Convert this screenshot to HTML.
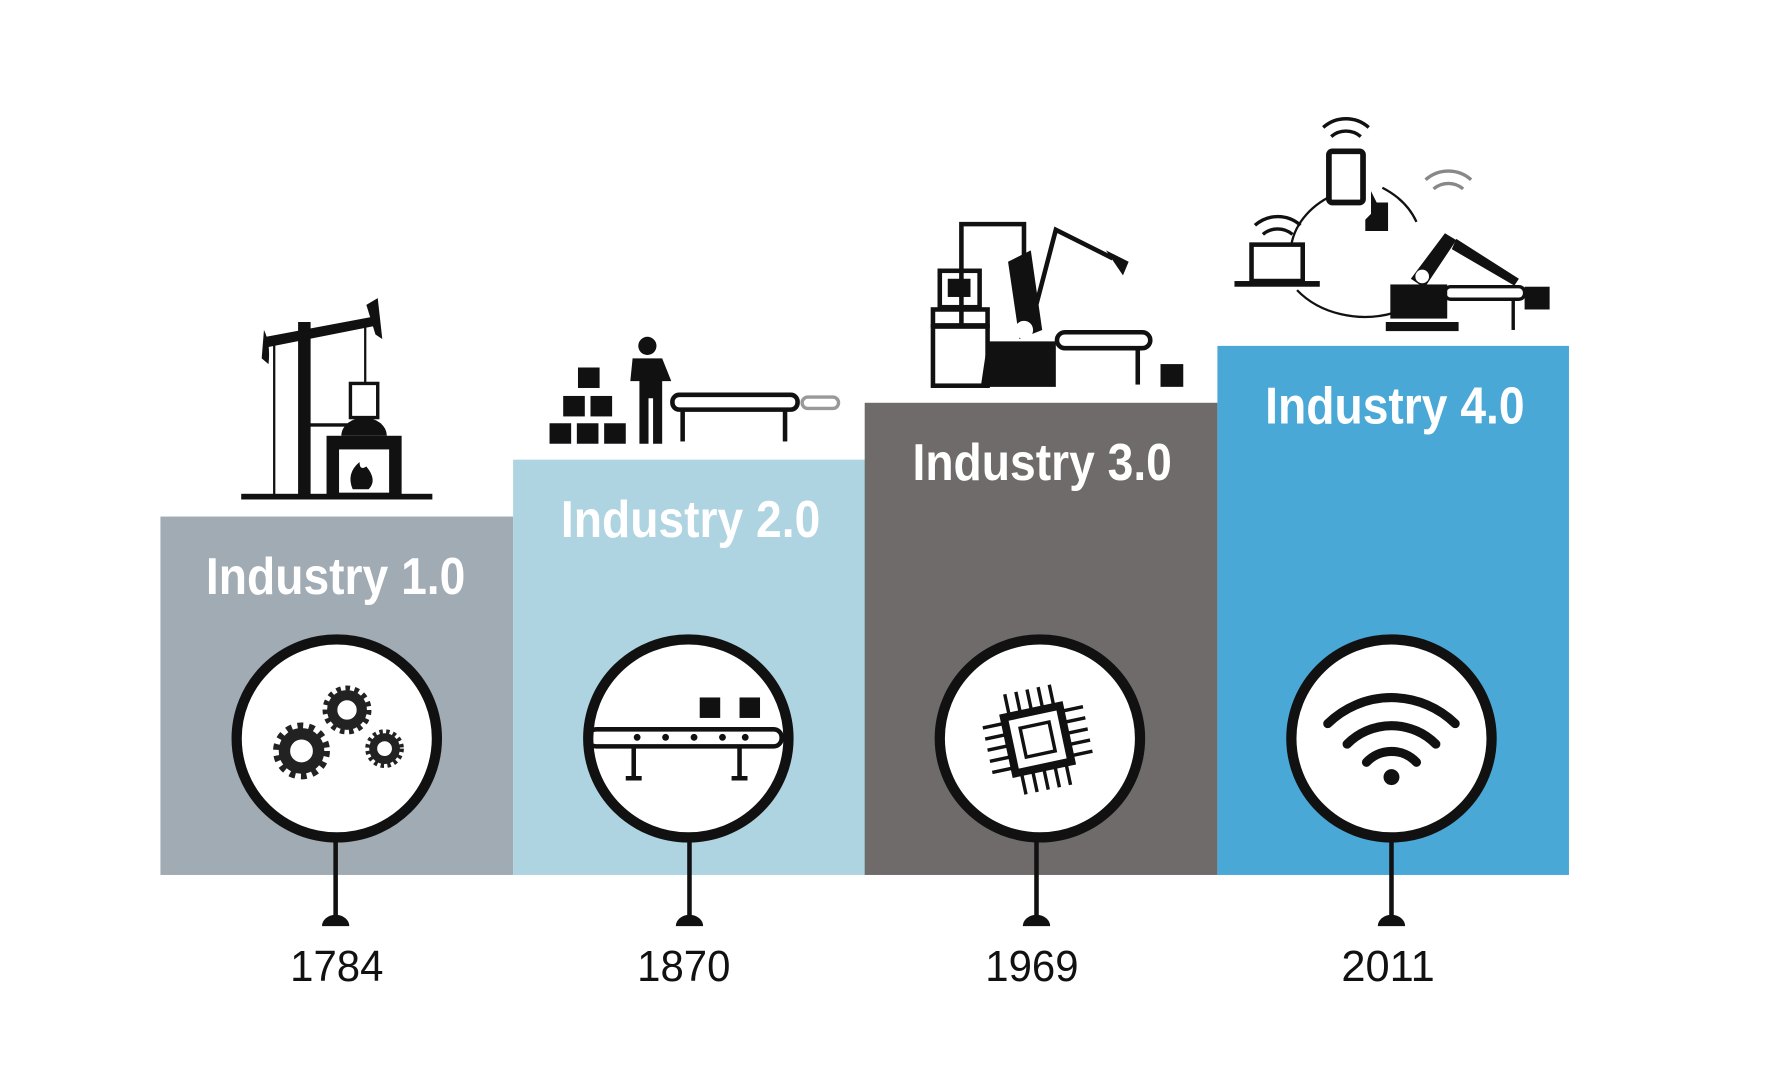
<!DOCTYPE html>
<html><head><meta charset="utf-8"><style>
html,body{margin:0;padding:0;background:#fff;}
svg{display:block}
.t{font-family:"Liberation Sans Narrow","Liberation Sans",sans-serif;font-weight:bold;fill:#fff;font-size:46px}
.y{font-family:"Liberation Sans",sans-serif;fill:#111;font-size:38px}
</style></head><body>
<svg width="1784" height="1090" viewBox="0 0 1568 958" preserveAspectRatio="none" xmlns="http://www.w3.org/2000/svg">
<rect width="1568" height="958" fill="#fff"/>
<!-- boxes -->
<rect x="141" y="454" width="310" height="315" fill="#a0abb3"/>
<rect x="451" y="404" width="310" height="365" fill="#aed3e1"/>
<rect x="760" y="354" width="310" height="415" fill="#6f6b6b"/>
<rect x="1070" y="304" width="309" height="465" fill="#4aa8d6"/>
<!-- titles -->
<text class="t" x="181" y="522" textLength="228" lengthAdjust="spacingAndGlyphs">Industry 1.0</text>
<text class="t" x="493" y="472" textLength="228" lengthAdjust="spacingAndGlyphs">Industry 2.0</text>
<text class="t" x="802" y="422" textLength="228" lengthAdjust="spacingAndGlyphs">Industry 3.0</text>
<text class="t" x="1112" y="372" textLength="228" lengthAdjust="spacingAndGlyphs">Industry 4.0</text>
<!-- pins -->
<g stroke="#111" stroke-width="4">
<line x1="295" y1="740" x2="295" y2="810"/><line x1="606" y1="740" x2="606" y2="810"/>
<line x1="911" y1="740" x2="911" y2="810"/><line x1="1223" y1="740" x2="1223" y2="810"/>
</g>
<g fill="#111">
<path d="M283 814a12 10 0 0 1 24 0z"/><path d="M594 814a12 10 0 0 1 24 0z"/>
<path d="M899 814a12 10 0 0 1 24 0z"/><path d="M1211 814a12 10 0 0 1 24 0z"/>
</g>
<g fill="#fff" stroke="#111" stroke-width="9">
<ellipse cx="296" cy="649" rx="88" ry="87"/>
<ellipse cx="605" cy="649" rx="88" ry="87"/>
<ellipse cx="914" cy="649" rx="88" ry="87"/>
<ellipse cx="1223" cy="649" rx="88" ry="87"/>
</g>
<!-- gears -->
<g fill="none" stroke="#222">
<circle cx="265" cy="660" r="15" stroke-width="10"/><circle cx="265" cy="660" r="22" stroke-width="6" stroke-dasharray="5 5"/>
<circle cx="305" cy="624" r="13" stroke-width="9"/><circle cx="305" cy="624" r="19" stroke-width="5" stroke-dasharray="4 4"/>
<circle cx="338" cy="658" r="10" stroke-width="7"/><circle cx="338" cy="658" r="15" stroke-width="4" stroke-dasharray="3 3"/>
</g>
<!-- conveyor -->
<g fill="#111"><rect x="615" y="613" width="18" height="18"/><rect x="650" y="613" width="18" height="18"/></g>
<g fill="none" stroke="#111" stroke-width="4">
<rect x="517" y="641" width="170" height="15" rx="7"/>
<line x1="557" y1="656" x2="557" y2="684"/><line x1="650" y1="656" x2="650" y2="684"/>
<line x1="550" y1="684" x2="564" y2="684"/><line x1="643" y1="684" x2="657" y2="684"/>
</g>
<g fill="#111"><circle cx="560" cy="648" r="3"/><circle cx="585" cy="648" r="3"/><circle cx="610" cy="648" r="3"/><circle cx="635" cy="648" r="3"/><circle cx="655" cy="648" r="3"/></g>
<!-- chip -->
<g transform="rotate(-12 912 650)" fill="none" stroke="#111">
<rect x="887" y="625" width="50" height="50" stroke-width="7"/>
<rect x="899" y="637" width="26" height="26" stroke-width="3"/>
<path d="M892 605v18M902 605v18M912 605v18M922 605v18M932 605v18M892 677v18M902 677v18M912 677v18M922 677v18M932 677v18M867 630h18M867 640h18M867 650h18M867 660h18M867 670h18M939 630h18M939 640h18M939 650h18M939 660h18M939 670h18" stroke-width="3"/>
</g>
<!-- wifi -->
<g fill="none" stroke="#111" stroke-width="8" stroke-linecap="round">
<path d="M1167 636a80 80 0 0 1 112 0"/><path d="M1184 654a55 55 0 0 1 78 0"/><path d="M1201 670a30 30 0 0 1 44 0"/>
</g>
<circle cx="1223" cy="683" r="7" fill="#111"/>
<!-- years -->
<text class="y" x="255" y="862" textLength="82" lengthAdjust="spacingAndGlyphs">1784</text>
<text class="y" x="560" y="862" textLength="82" lengthAdjust="spacingAndGlyphs">1870</text>
<text class="y" x="866" y="862" textLength="82" lengthAdjust="spacingAndGlyphs">1969</text>
<text class="y" x="1179" y="862" textLength="82" lengthAdjust="spacingAndGlyphs">2011</text>
<!-- icon 1 pump -->
<g fill="#111">
<rect x="212" y="434" width="168" height="5"/>
<rect x="262" y="283" width="11" height="155"/>
<polygon points="234,296 330,278 332,286 236,305"/>
<path d="M232 290q6 12 4 30l-6-5z"/><path d="M322 268l10-6 4 36-6 -4z"/>
<rect x="240" y="300" width="2" height="135"/>
<rect x="320" y="285" width="2" height="52"/>
<rect x="287" y="383" width="66" height="53"/>
<path d="M300 383a20 16 0 0 1 40 0z"/>
<rect x="272" y="372" width="40" height="3"/>
</g>
<rect x="308" y="337" width="24" height="30" fill="#fff" stroke="#111" stroke-width="3"/>
<rect x="298" y="395" width="44" height="38" fill="#fff"/>
<path d="M310 430q-6-14 6-24q0 8 6 4q10 12 2 20z" fill="#111"/>
<!-- icon 2 -->
<g fill="#111">
<rect x="483" y="372" width="19" height="18"/><rect x="507" y="372" width="19" height="18"/><rect x="531" y="372" width="19" height="18"/>
<rect x="495" y="348" width="19" height="18"/><rect x="519" y="348" width="19" height="18"/>
<rect x="508" y="323" width="19" height="18"/>
<circle cx="569" cy="304" r="8"/>
<path d="M556 315h26l8 20h-8v55h-8v-40h-4v40h-8v-55h-8z"/>
</g>
<g fill="none" stroke="#111" stroke-width="4">
<rect x="591" y="347" width="110" height="13" rx="6"/>
<line x1="600" y1="360" x2="600" y2="388"/><line x1="690" y1="360" x2="690" y2="388"/>
</g>
<rect x="705" y="349" width="32" height="10" rx="5" fill="none" stroke="#999" stroke-width="3"/>
<!-- icon 3 -->
<g fill="none" stroke="#111" stroke-width="4">
<path d="M845 287V197h55v95"/>
<rect x="826" y="238" width="35" height="32"/>
<rect x="820" y="287" width="48" height="52"/>
<rect x="820" y="272" width="48" height="14"/>
<rect x="929" y="292" width="82" height="14" rx="7"/>
<line x1="1000" y1="306" x2="1000" y2="338"/>
<path d="M905 290l23-88l50 25"/>
</g>
<g fill="#111">
<rect x="833" y="245" width="20" height="16"/>
<path d="M868 300h60v40h-66z"/>
<path d="M886 230l20-10l10 70l-20 8z"/>
<path d="M972 220l20 10l-5 12z"/>
<rect x="1020" y="320" width="20" height="20"/>
</g>
<circle cx="900" cy="290" r="8" fill="#fff"/>
<!-- icon 4 -->
<g fill="none" stroke="#111" stroke-width="2">
<path d="M1135 215a75 60 0 0 1 40 -45"/><path d="M1215 165a75 60 0 0 1 30 30"/>
<path d="M1140 255a75 60 0 0 0 85 20"/>
</g>
<rect x="1168" y="133" width="30" height="45" rx="3" fill="#fff" stroke="#111" stroke-width="5"/>
<path d="M1205 168v20l-5 5v10h20v-25h-10z" fill="#111"/>
<rect x="1100" y="215" width="45" height="32" fill="#fff" stroke="#111" stroke-width="4"/>
<rect x="1085" y="247" width="75" height="5" fill="#111"/>
<g fill="none" stroke="#111" stroke-width="3">
<path d="M1163 112a30 30 0 0 1 40 0"/><path d="M1170 120a20 20 0 0 1 26 0"/>
<path d="M1103 198a30 30 0 0 1 40 0"/><path d="M1110 206a20 20 0 0 1 26 0"/>
<path d="M1253 158a30 30 0 0 1 40 0" stroke="#888"/><path d="M1260 166a20 20 0 0 1 26 0" stroke="#888"/>
</g>
<g fill="#111">
<rect x="1222" y="250" width="50" height="30"/><rect x="1218" y="283" width="64" height="8"/>
<path d="M1240 245l30-40l10 6l-28 42z"/>
<path d="M1280 210l55 35l-4 6l-55-32z"/>
<rect x="1340" y="252" width="22" height="20"/>
</g>
<rect x="1270" y="252" width="70" height="11" rx="5" fill="none" stroke="#111" stroke-width="3"/>
<line x1="1330" y1="263" x2="1330" y2="290" stroke="#111" stroke-width="3"/>
<circle cx="1250" cy="243" r="6" fill="#fff"/>
</svg>
</body></html>
